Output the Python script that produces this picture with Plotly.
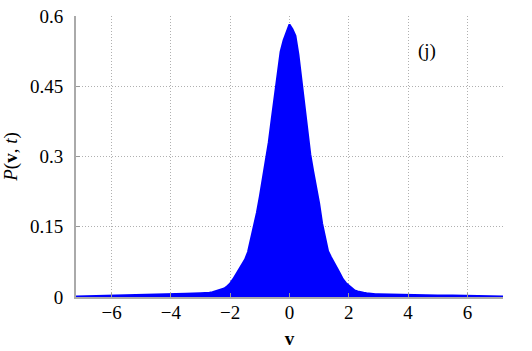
import plotly.graph_objects as go

# histogram of velocity (bin centres and heights)
v_left_tail = [-7.2, -6.5, -6.0, -5.5, -5.0, -4.5, -4.0, -3.5]
p_left_tail = [0.001, 0.002, 0.002, 0.003, 0.004, 0.005, 0.006, 0.007]

v_core = [-3.0, -2.9, -2.8, -2.7, -2.6, -2.5, -2.4, -2.3, -2.2, -2.1,
          -2.0, -1.9, -1.8, -1.7, -1.6, -1.5, -1.4, -1.3, -1.2, -1.1,
          -1.0, -0.9, -0.8, -0.7, -0.6, -0.5, -0.4, -0.3, -0.2, -0.1,
          0.0, 0.1, 0.2, 0.3, 0.4, 0.5, 0.6, 0.7, 0.8, 0.9,
          1.0, 1.1, 1.2, 1.3, 1.4, 1.5, 1.6, 1.7, 1.8, 1.9,
          2.0, 2.1, 2.2, 2.3, 2.4, 2.5, 2.6, 2.7, 2.8, 2.9, 3.0]
p_core = [0.008, 0.008, 0.009, 0.009, 0.010, 0.012, 0.013, 0.015, 0.018, 0.023,
          0.029, 0.038, 0.048, 0.060, 0.070, 0.080, 0.096, 0.122, 0.149, 0.180,
          0.215, 0.252, 0.290, 0.330, 0.380, 0.432, 0.482, 0.524, 0.548, 0.565,
          0.582, 0.572, 0.558, 0.518, 0.465, 0.410, 0.352, 0.305, 0.268, 0.235,
          0.200, 0.157, 0.125, 0.098, 0.085, 0.072, 0.062, 0.050, 0.038, 0.030,
          0.024, 0.018, 0.014, 0.012, 0.010, 0.009, 0.008, 0.007, 0.007, 0.006, 0.006]

v_right_tail = [3.5, 4.0, 4.5, 5.0, 5.5, 6.0, 6.5, 7.2]
p_right_tail = [0.005, 0.004, 0.004, 0.003, 0.003, 0.002, 0.002, 0.001]

x_ticks = [-6, -4, -2, 0, 2, 4, 6]
y_ticks = [0, 0.15, 0.3, 0.45, 0.6]
y_tick_text = ["0", "0.15", "0.3", "0.45", "0.6"]

v = v_left_tail + v_core + v_right_tail
p = p_left_tail + p_core + p_right_tail

SERIF = "Liberation Serif"
GRID = "#b0b0b0"

fig = go.Figure()
fig.add_trace(go.Scatter(
    x=v, y=p, mode="lines", line={"color": "#0000ff", "width": 2},
    fill="tozeroy", fillcolor="#0000ff", hoverinfo="skip",
))

fig.add_annotation(x=4.65, y=0.525, text="(j)", showarrow=False,
                   font={"family": SERIF, "size": 19, "color": "#000000"})

fig.update_layout(
    width=532, height=351,
    paper_bgcolor="#ffffff", plot_bgcolor="#ffffff",
    font={"family": SERIF, "size": 19, "color": "#000000"},
    margin={"l": 76, "r": 29, "t": 16, "b": 54},
    showlegend=False,
)
fig.update_xaxes(
    range=[-7.2, 7.2], tickvals=x_ticks, ticks="inside", ticklen=4, tickcolor="#999999",
    showgrid=True, gridcolor=GRID, griddash="1px,2px", gridwidth=1,
    showline=True, linecolor="#aaaaaa", linewidth=2, zeroline=False, automargin=False,
    tickfont={"family": SERIF, "size": 19}, ticklabelstandoff=-3,
    title={"text": "<b>v</b>", "standoff": 10, "font": {"family": SERIF, "size": 19}},
)
fig.update_yaxes(
    range=[0, 0.6], tickvals=y_ticks, ticktext=y_tick_text, ticks="inside", ticklen=4,
    tickcolor="#999999",
    showgrid=True, gridcolor=GRID, griddash="1px,2px", gridwidth=1,
    showline=True, linecolor="#aaaaaa", linewidth=2, zeroline=False, automargin=False,
    tickfont={"family": SERIF, "size": 19}, ticklabelstandoff=7,
    title={"text": "<i>P</i>(<b>v</b>, <i>t</i>)", "standoff": 10,
           "font": {"family": SERIF, "size": 19}},
)

fig.write_html("out.html", config={"displayModeBar": False},
               post_script="document.body.style.margin='0';")
